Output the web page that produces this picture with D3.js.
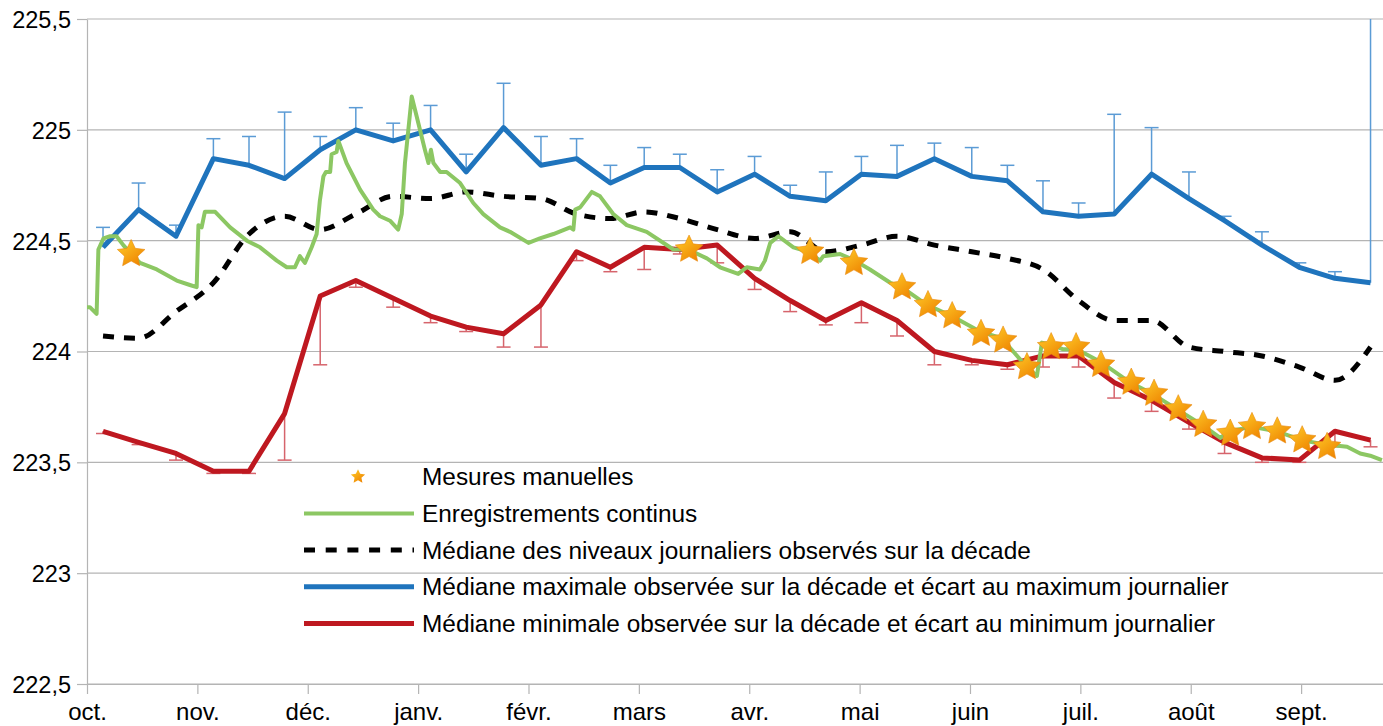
<!DOCTYPE html>
<html>
<head>
<meta charset="utf-8">
<script src="https://cdn.jsdelivr.net/npm/d3@7"></script>
<style>
  body { margin: 0; background: #fff; }
  svg { display: block; font-family: "Liberation Sans", Arial, sans-serif; }
</style>
</head>
<body>
<svg id="chart"></svg>
<script>
// Hydrological year oct. 2019 -> sept. 2020 (leap year), one point per decade
const monthLabels = ["oct.", "nov.", "déc.", "janv.", "févr.", "mars", "avr.", "mai", "juin", "juil.", "août", "sept."];
const monthLengths = [31, 30, 31, 31, 29, 31, 30, 31, 30, 31, 31, 30];
const yTicks = [222.5, 223, 223.5, 224, 224.5, 225, 225.5];

// decade medians (36 decades)
const medianLevels = [224.07, 224.06, 224.18, 224.31, 224.53, 224.61, 224.55, 224.62, 224.70, 224.69,
  224.72, 224.70, 224.69, 224.62, 224.60, 224.63, 224.60, 224.55, 224.51, 224.54,
  224.45, 224.48, 224.52, 224.48, 224.45, 224.42, 224.37, 224.23, 224.14, 224.14,
  224.02, 224.00, 223.98, 223.93, 223.87, 224.02];
const maxMedian = [224.47, 224.64, 224.52, 224.87, 224.84, 224.78, 224.91, 225.00, 224.95, 225.00,
  224.81, 225.01, 224.84, 224.87, 224.76, 224.83, 224.83, 224.72, 224.80, 224.70,
  224.68, 224.80, 224.79, 224.87, 224.79, 224.77, 224.63, 224.61, 224.62, 224.80,
  224.69, 224.59, 224.48, 224.38, 224.33, 224.31];
const maxDaily = [224.56, 224.76, 224.57, 224.96, 224.97, 225.08, 224.97, 225.10, 225.03, 225.11,
  224.89, 225.21, 224.97, 224.96, 224.84, 224.92, 224.89, 224.82, 224.88, 224.75,
  224.81, 224.88, 224.93, 224.94, 224.92, 224.84, 224.77, 224.67, 225.07, 225.01,
  224.81, 224.61, 224.54, 224.40, 224.36, 225.60];
const minMedian = [223.64, 223.59, 223.54, 223.46, 223.46, 223.72, 224.25, 224.32, 224.24, 224.16,
  224.11, 224.08, 224.21, 224.45, 224.38, 224.47, 224.46, 224.48, 224.33, 224.23,
  224.14, 224.22, 224.14, 224.00, 223.96, 223.94, 223.98, 223.98, 223.86, 223.78,
  223.68, 223.59, 223.52, 223.51, 223.64, 223.60];
const minDaily = [223.63, 223.58, 223.51, 223.45, 223.45, 223.51, 223.94, 224.29, 224.20, 224.13,
  224.09, 224.02, 224.02, 224.41, 224.36, 224.37, 224.44, 224.40, 224.28, 224.18,
  224.12, 224.13, 224.07, 223.94, 223.94, 223.92, 223.93, 223.93, 223.79, 223.73,
  223.65, 223.54, 223.50, 223.50, 223.57, 223.57];

// continuous recording: [days since 1 oct., level]
const continuousRecords = [[0, 224.20], [0.8, 224.20], [2.7, 224.17], [3.2, 224.46], [4.6, 224.51], [6.5, 224.52],
  [8.3, 224.52], [10.2, 224.48], [12.4, 224.44], [14.9, 224.40], [19.6, 224.37], [25.2, 224.32], [28.9, 224.30],
  [30.8, 224.29], [31.3, 224.57], [32.2, 224.56], [33.1, 224.63], [36.0, 224.63], [40.2, 224.56], [44.9, 224.50],
  [48.6, 224.47], [53.3, 224.41], [56.1, 224.38], [58.4, 224.38], [59.8, 224.43], [61.2, 224.40], [63.1, 224.47],
  [64.5, 224.53], [65.4, 224.68], [66.4, 224.79], [67.1, 224.81], [68.3, 224.81], [68.7, 224.89], [70.1, 224.90],
  [70.6, 224.95], [72.9, 224.85], [76.7, 224.73], [80.4, 224.64], [82.3, 224.61], [85.1, 224.59], [87.4, 224.55],
  [88.4, 224.62], [89.3, 224.85], [91.2, 225.15], [92.6, 225.06], [94.9, 224.91], [95.9, 224.85], [96.6, 224.91],
  [97.3, 224.85], [99.2, 224.81], [101.0, 224.81], [104.8, 224.76], [108.5, 224.67], [111.3, 224.62], [116.0, 224.56],
  [118.8, 224.54], [124.0, 224.49], [127.2, 224.51], [131.0, 224.53], [135.7, 224.56], [136.6, 224.55], [137.1, 224.64],
  [138.5, 224.65], [141.8, 224.72], [144.1, 224.70], [147.8, 224.62], [151.6, 224.57], [157.2, 224.54], [164.7, 224.46],
  [168.9, 224.46], [174.1, 224.42], [177.8, 224.38], [182.9, 224.35], [185.3, 224.38], [189.0, 224.37], [190.4, 224.41],
  [191.9, 224.49], [194.2, 224.52], [198.4, 224.47], [202.6, 224.45], [205.9, 224.41], [206.8, 224.43], [211.5, 224.44],
  [215.7, 224.41], [219.9, 224.37], [225.6, 224.31], [228.8, 224.29], [235.9, 224.21], [242.9, 224.16], [250.8, 224.09],
  [256.9, 224.06], [260.7, 223.99], [264.0, 223.93], [266.8, 223.89], [268.2, 224.04], [271.0, 224.03], [274.2, 224.01],
  [278.0, 224.01], [285.0, 223.95], [293.0, 223.86], [299.1, 223.81], [306.1, 223.74], [313.1, 223.67], [318.3, 223.61],
  [320.6, 223.64], [327.2, 223.66], [334.2, 223.64], [341.2, 223.60], [348.0, 223.58], [353.9, 223.57], [357.6, 223.54],
  [360.4, 223.53], [363.7, 223.51]];

// manual measurements: [days since 1 oct., level]
const manualRecords = [[12.4, 224.44], [169.1, 224.46], [203.1, 224.45], [215.4, 224.40], [228.9, 224.29],
  [236.2, 224.21], [243.0, 224.16], [251.1, 224.08], [257.3, 224.05], [264.0, 223.93], [270.8, 224.02],
  [277.8, 224.02], [284.8, 223.94], [293.3, 223.86], [299.7, 223.81], [306.5, 223.74], [313.5, 223.67],
  [321.1, 223.63], [327.2, 223.66], [334.3, 223.64], [341.3, 223.60], [348.3, 223.57]];

const legendLabels = [
  "Mesures manuelles",
  "Enregistrements continus",
  "Médiane des niveaux journaliers observés sur la décade",
  "Médiane maximale observée sur la décade et écart au maximum journalier",
  "Médiane minimale observée sur la décade et écart au minimum journalier"
];

const colors = { green: '#8cc763', blue: '#1f74bd', blueBar: '#5b9bd5', red: '#be1820', redBar: '#d6646c', grid: '#b4b4b4' };

// middle day of each decade (1-10, 11-20, 21-end)
const decadeDays = [];
let monthStart = 0;
monthLengths.forEach(len => {
  [[0, 9], [10, 19], [20, len - 1]].forEach(([a, b]) => decadeDays.push(monthStart + (a + b) / 2));
  monthStart += len;
});

function createChart() {
  const W = 1383, H = 726;
  const left = 87, right = 1383, top = 19, bottom = 684;

  const svg = d3.select('#chart').attr('width', W).attr('height', H);

  const x = d3.scaleLinear().domain([0, 364]).range([left, right]);
  const y = d3.scaleLinear().domain([222.5, 225.5]).range([bottom, top]);

  const defs = svg.append('defs');
  defs.append('clipPath').attr('id', 'plot')
      .append('rect').attr('x', left).attr('y', top).attr('width', right - left).attr('height', bottom - top);
  const grad = defs.append('linearGradient').attr('id', 'starGrad')
      .attr('x1', 0).attr('y1', 0).attr('x2', 0.8).attr('y2', 1);
  grad.append('stop').attr('offset', '0%').attr('stop-color', '#ffcf2a');
  grad.append('stop').attr('offset', '100%').attr('stop-color', '#ee8200');

  // horizontal grid
  svg.append('g').selectAll('line').data(yTicks).enter().append('line')
     .attr('x1', left).attr('x2', right)
     .attr('y1', d => y(d)).attr('y2', d => y(d))
     .attr('stroke', colors.grid).attr('stroke-width', 1.2);

  // Y axis
  const yAxis = svg.append('g').attr('transform', `translate(${left},0)`)
     .call(d3.axisLeft(y).tickValues(yTicks).tickSize(10).tickSizeOuter(0)
       .tickFormat(d => String(d).replace('.', ',')));
  yAxis.select('.domain').attr('stroke', colors.grid).attr('stroke-width', 1.2);
  yAxis.selectAll('line').attr('stroke', colors.grid).attr('stroke-width', 1.2);
  yAxis.selectAll('text')
     .attr('x', -16).attr('dy', '0.36em')
     .style('font-size', '23.5px').style('fill', '#000');

  // X axis (ticks every 31 days)
  const xAxis = svg.append('g').attr('transform', `translate(0,${bottom})`)
     .call(d3.axisBottom(x).tickValues(monthLabels.map((m, i) => i * 31)).tickSize(10).tickSizeOuter(0)
       .tickFormat((d, i) => monthLabels[i]));
  xAxis.select('.domain').attr('stroke', colors.grid).attr('stroke-width', 1.2);
  xAxis.selectAll('line').attr('stroke', colors.grid).attr('stroke-width', 1.2);
  xAxis.selectAll('text')
     .attr('y', 36).attr('dy', null)
     .style('font-size', '24px').style('fill', '#000');

  const plot = svg.append('g').attr('clip-path', 'url(#plot)');

  // error bars
  function errorBars(values, limits, color) {
    const g = plot.append('g').attr('stroke', color).attr('stroke-width', 1.5);
    decadeDays.forEach((d, i) => {
      g.append('line').attr('x1', x(d)).attr('x2', x(d)).attr('y1', y(values[i])).attr('y2', y(limits[i]));
      g.append('line').attr('x1', x(d) - 7).attr('x2', x(d) + 7).attr('y1', y(limits[i])).attr('y2', y(limits[i]));
    });
  }
  errorBars(maxMedian, maxDaily, colors.blueBar);
  errorBars(minMedian, minDaily, colors.redBar);

  const decadeLine = values => d3.line().x((d, i) => x(decadeDays[i])).y(d => y(d))(values);

  plot.append('path').attr('d', decadeLine(maxMedian))
      .attr('fill', 'none').attr('stroke', colors.blue).attr('stroke-width', 5).attr('stroke-linejoin', 'round');
  plot.append('path').attr('d', decadeLine(minMedian))
      .attr('fill', 'none').attr('stroke', colors.red).attr('stroke-width', 5).attr('stroke-linejoin', 'round');
  plot.append('path')
      .attr('d', d3.line().curve(d3.curveMonotoneX).x((d, i) => x(decadeDays[i])).y(d => y(d))(medianLevels))
      .attr('fill', 'none').attr('stroke', '#000').attr('stroke-width', 5).attr('stroke-dasharray', '11,10');

  plot.append('path')
      .attr('d', d3.line().x(d => x(d[0])).y(d => y(d[1]))(continuousRecords))
      .attr('fill', 'none').attr('stroke', colors.green).attr('stroke-width', 4).attr('stroke-linejoin', 'round');

  // star shape
  function starPath(R, r) {
    const pts = [];
    for (let k = 0; k < 10; k++) {
      const a = -Math.PI / 2 + k * Math.PI / 5;
      const rad = k % 2 ? r : R;
      pts.push([rad * Math.cos(a), rad * Math.sin(a)]);
    }
    return 'M' + pts.map(p => p.join(',')).join('L') + 'Z';
  }

  plot.selectAll('.star').data(manualRecords).enter().append('path')
      .attr('class', 'star')
      .attr('d', starPath(14.5, 7))
      .attr('transform', d => `translate(${x(d[0])},${y(d[1])})`)
      .attr('fill', 'url(#starGrad)')
      .attr('stroke', '#e98a10').attr('stroke-width', 0.6);

  // legend
  const lx1 = 304, lx2 = 414, tx = 422, ly0 = 476.7, step = 36.7;
  const legend = svg.append('g');
  legendLabels.forEach((label, i) => {
    const cy = ly0 + i * step;
    if (i === 0) {
      legend.append('path').attr('d', starPath(7.5, 3.6))
            .attr('transform', `translate(${(lx1 + lx2) / 2 - 1},${cy})`)
            .attr('fill', 'url(#starGrad)');
    } else {
      const stroke = [null, colors.green, '#000', colors.blue, colors.red][i];
      legend.append('line').attr('x1', lx1).attr('x2', lx2).attr('y1', cy).attr('y2', cy)
            .attr('stroke', stroke).attr('stroke-width', i === 1 ? 4 : 5)
            .attr('stroke-dasharray', i === 2 ? '11,10.7' : null);
    }
    legend.append('text').attr('x', tx).attr('y', cy + 8.5)
          .style('font-size', '24.4px').style('fill', '#000')
          .text(label);
  });
}

document.addEventListener('DOMContentLoaded', createChart);
</script>
</body>
</html>
